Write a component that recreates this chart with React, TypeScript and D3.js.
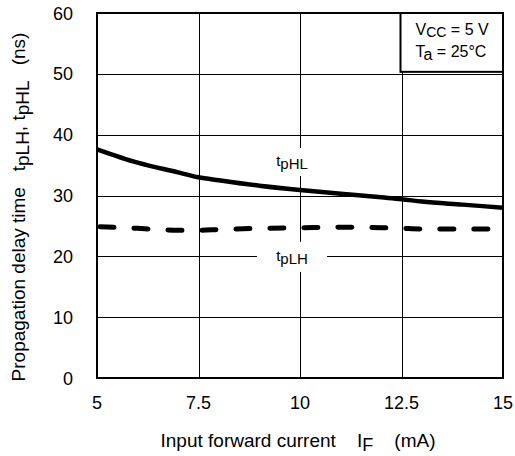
import React, { useEffect, useRef } from "react";
import * as d3 from "d3";

// input forward current IF (mA)
const currentIF = [5, 6, 7, 7.5, 8, 9, 10, 11, 12, 12.5, 13, 14, 15];
// propagation delay tpHL (ns)
const tpHL = [37.6, 35.4, 33.8, 33.0, 32.5, 31.6, 30.9, 30.3, 29.7, 29.4, 29.0, 28.5, 28.0];
// propagation delay tpLH (ns)
const tpLH = [24.9, 24.6, 24.3, 24.3, 24.4, 24.6, 24.7, 24.8, 24.7, 24.6, 24.5, 24.5, 24.5];

const xTicks = [5, 7.5, 10, 12.5, 15];
const xTickLabels = ["5", "7.5", "10", "12.5", "15"];
const yTicks = [0, 10, 20, 30, 40, 50, 60];

const App = () => {
  const svgRef = useRef<SVGSVGElement>(null);

  useEffect(() => {
    const w = 515;
    const h = 456;
    const m = { left: 97, right: 12, top: 13, bottom: 78 };
    const font = "'Liberation Sans', Arial, sans-serif";

    const svg = d3.select(svgRef.current).attr("width", w).attr("height", h);
    svg.selectAll("*").remove();

    const x = d3.scaleLinear().domain([5, 15]).range([m.left, w - m.right]);
    const y = d3.scaleLinear().domain([0, 60]).range([h - m.bottom, m.top]);

    svg.append("rect").attr("width", w).attr("height", h).attr("fill", "#fff");

    //grid
    const grid = svg.append("g").attr("stroke", "#000").attr("stroke-width", 1);
    grid
      .selectAll("line.v")
      .data(xTicks.slice(1, -1))
      .join("line")
      .attr("class", "v")
      .attr("x1", (d) => Math.round(x(d)) + 0.5)
      .attr("x2", (d) => Math.round(x(d)) + 0.5)
      .attr("y1", y(0))
      .attr("y2", y(60));
    grid
      .selectAll("line.h")
      .data(yTicks.slice(1, -1))
      .join("line")
      .attr("class", "h")
      .attr("x1", x(5))
      .attr("x2", x(15))
      .attr("y1", (d) => Math.round(y(d)) + 0.5)
      .attr("y2", (d) => Math.round(y(d)) + 0.5);

    //curves
    const line = d3
      .line<number>()
      .x((d, i) => x(currentIF[i]))
      .y((d) => y(d))
      .curve(d3.curveMonotoneX);

    svg
      .append("path")
      .attr("d", line(tpHL))
      .attr("fill", "none")
      .attr("stroke", "#000")
      .attr("stroke-width", 4.5);

    svg
      .append("path")
      .attr("d", line(tpLH))
      .attr("fill", "none")
      .attr("stroke", "#000")
      .attr("stroke-width", 5)
      .attr("stroke-linecap", "round")
      .attr("stroke-dasharray", "14,20")
      .attr("stroke-dashoffset", -3);

    //curve labels with white backing
    const curveLabel = (cx: number, cy: number, bw: number, bh: number, sub: string) => {
      svg
        .append("rect")
        .attr("x", cx - bw / 2)
        .attr("y", cy - bh / 2)
        .attr("width", bw)
        .attr("height", bh)
        .attr("fill", "#fff");
      const t = svg
        .append("text")
        .attr("x", cx)
        .attr("y", cy + 4)
        .attr("text-anchor", "middle")
        .attr("font-family", font)
        .attr("font-size", 15);
      t.append("tspan").text("t");
      t.append("tspan").attr("dy", 3).text(sub);
    };
    curveLabel(x(10) - 8, y(35.5), 42, 28, "pHL");
    curveLabel(x(10) - 8, y(20) + 0.5, 70, 30, "pLH");

    //frame
    svg
      .append("rect")
      .attr("x", x(5))
      .attr("y", y(60))
      .attr("width", x(15) - x(5))
      .attr("height", y(0) - y(60))
      .attr("fill", "none")
      .attr("stroke", "#000")
      .attr("stroke-width", 2);

    //condition box
    const bx = x(12.5) - 1;
    const by = y(60);
    svg
      .append("rect")
      .attr("x", bx)
      .attr("y", by)
      .attr("width", x(15) - bx)
      .attr("height", y(50) - by - 2)
      .attr("fill", "#fff")
      .attr("stroke", "#000")
      .attr("stroke-width", 2);
    const c1 = svg
      .append("text")
      .attr("x", bx + 15)
      .attr("y", by + 22)
      .attr("font-family", font)
      .attr("font-size", 16)
      .style("white-space", "pre");
    c1.append("tspan").text("V");
    c1.append("tspan").attr("dy", 2).attr("font-size", 14).text("CC");
    c1.append("tspan").attr("dy", -2).text(" = 5 V");
    const c2 = svg
      .append("text")
      .attr("x", bx + 15)
      .attr("y", by + 44)
      .attr("font-family", font)
      .attr("font-size", 16)
      .style("white-space", "pre");
    c2.append("tspan").text("T");
    c2.append("tspan").attr("dy", 3).text("a");
    c2.append("tspan").attr("dy", -3).text(" = 25°C");

    //tick labels
    svg
      .append("g")
      .selectAll("text")
      .data(yTicks)
      .join("text")
      .attr("x", m.left - 24)
      .attr("y", (d) => y(d) + 6.5)
      .attr("text-anchor", "end")
      .attr("font-family", font)
      .attr("font-size", 18)
      .text((d) => d);
    svg
      .append("g")
      .selectAll("text")
      .data(xTicks)
      .join("text")
      .attr("x", (d) => x(d))
      .attr("y", y(0) + 31)
      .attr("text-anchor", "middle")
      .attr("font-family", font)
      .attr("font-size", 18)
      .text((d, i) => xTickLabels[i]);

    //axis titles
    const xt = svg
      .append("text")
      .attr("x", (x(5) + x(15)) / 2 - 2)
      .attr("y", h - 9)
      .attr("text-anchor", "middle")
      .attr("font-family", font)
      .attr("font-size", 19)
      .style("white-space", "pre");
    xt.append("tspan").text("Input forward current    I");
    xt.append("tspan").attr("dy", 4).attr("font-size", 18).text("F");
    xt.append("tspan").attr("dy", -4).text("    (mA)");

    const yt = svg
      .append("text")
      .attr("transform", `translate(25,${207}) rotate(-90)`)
      .attr("text-anchor", "middle")
      .attr("font-family", font)
      .attr("font-size", 19)
      .style("white-space", "pre");
    yt.append("tspan").text("Propagation delay time   t");
    yt.append("tspan").attr("dy", 4).text("pLH");
    yt.append("tspan").attr("dy", -4).text(", t");
    yt.append("tspan").attr("dy", 4).text("pHL");
    yt.append("tspan").attr("dy", -4).text("   (ns)");
  }, []);

  return (
    <div>
      <svg ref={svgRef} style={{ position: "absolute", left: 0, top: 0 }}></svg>
    </div>
  );
};

export default App;
